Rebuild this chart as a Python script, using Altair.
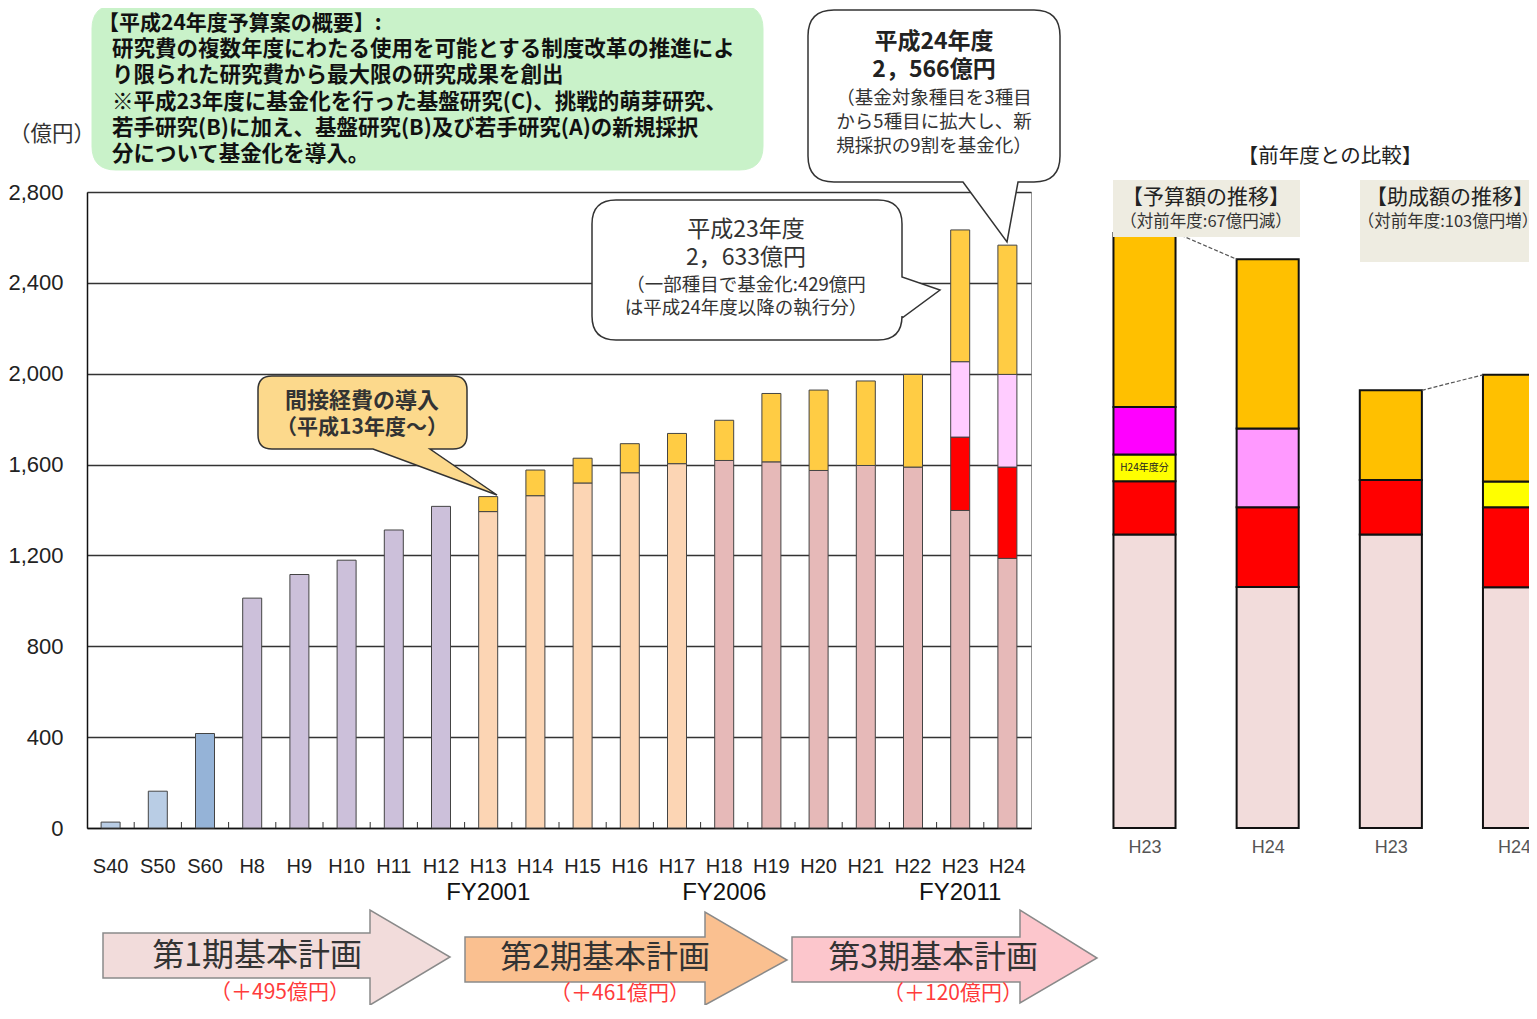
import json
import altair as alt
import pandas as pd

# ---------------- data ----------------
years = ["S40", "S50", "S60", "H8", "H9", "H10", "H11", "H12", "H13", "H14",
         "H15", "H16", "H17", "H18", "H19", "H20", "H21", "H22", "H23", "H24"]
period = ["S40-S50", "S40-S50", "S60",
          "H8-H12", "H8-H12", "H8-H12", "H8-H12", "H8-H12",
          "H13-H17", "H13-H17", "H13-H17", "H13-H17", "H13-H17",
          "H18-H24", "H18-H24", "H18-H24", "H18-H24", "H18-H24", "H18-H24", "H18-H24"]
base_vals = [26, 162, 416, 1012, 1116, 1179, 1312, 1416, 1393, 1463,
             1519, 1564, 1604, 1618, 1612, 1574, 1596, 1589, 1398, 1187]
fund_a_vals = [0, 0, 0, 0, 0, 0, 0, 0, 0, 0, 0, 0, 0, 0, 0, 0, 0, 0, 323, 402]
fund_b_vals = [0, 0, 0, 0, 0, 0, 0, 0, 0, 0, 0, 0, 0, 0, 0, 0, 0, 0, 332, 408]
indirect_vals = [0, 0, 0, 0, 0, 0, 0, 0, 66, 113, 109, 128, 133, 177, 301, 354, 372, 408, 580, 569]

seg_domain = ["S40-S50", "S60", "H8-H12", "H13-H17", "H18-H24", "基金化A", "基金化B", "間接経費"]
seg_colors = ["#b9cde5", "#95b3d7", "#ccc0da", "#fcd5b4", "#e6b9b8", "#ff0000", "#ffccff", "#ffcc44"]

y_ticks = [0, 400, 800, 1200, 1600, 2000, 2400, 2800]

fy_years = ["H13", "H18", "H23"]
fy_labels = ["FY2001", "FY2006", "FY2011"]

# comparison panel (前年度との比較)
cmp_pos = [0, 1, 2, 3]
cmp_labels = ["H23", "H24", "H23", "H24"]
cmp_base = [1292, 1061, 1292, 1060]
cmp_red = [235, 351, 240, 352]
cmp_yellow = [117, 0, 0, 114]
cmp_magenta = [209, 0, 0, 0]
cmp_pink = [0, 347, 0, 0]
cmp_orange = [767, 745, 395, 469]
cmp_seg_domain = ["c_base", "c_red", "c_yellow", "c_magenta", "c_pink", "c_orange"]
cmp_seg_colors = ["#f2dcdb", "#ff0000", "#ffff00", "#ff00ff", "#ff99ff", "#ffc000"]

# ---------------- tables ----------------
rows = []
for i, yr in enumerate(years):
    cum = 0
    for seg, val in [(period[i], base_vals[i]), ("基金化A", fund_a_vals[i]),
                     ("基金化B", fund_b_vals[i]), ("間接経費", indirect_vals[i])]:
        if val > 0:
            rows.append({"year": yr, "seg": seg, "y0": cum, "y1": cum + val})
            cum += val
main_df = pd.DataFrame(rows)
tick_df = pd.DataFrame({"year": years[1:]})
fy_df = pd.DataFrame({"year": fy_years, "label": fy_labels})

HALF = 0.252
crows = []
totals = []
for i in range(len(cmp_pos)):
    cum = 0
    for seg, lst in zip(cmp_seg_domain, [cmp_base, cmp_red, cmp_yellow, cmp_magenta, cmp_pink, cmp_orange]):
        v = lst[i]
        if v > 0:
            crows.append({"xl": cmp_pos[i] - HALF, "xr": cmp_pos[i] + HALF,
                          "y0": cum, "y1": cum + v, "cseg": seg})
            cum += v
    totals.append(cum)
cmp_df = pd.DataFrame(crows)
conn_df = pd.DataFrame({
    "xl": [cmp_pos[0] + HALF, cmp_pos[2] + HALF],
    "xr": [cmp_pos[1] - HALF, cmp_pos[3] - HALF],
    "y0": [totals[0], totals[2]],
    "y1": [totals[1], totals[3]],
})
h24_df = pd.DataFrame({"xl": [cmp_pos[0]],
                       "y0": [cmp_base[0] + cmp_red[0] + cmp_yellow[0] / 2],
                       "t": ["H24年度分"]})

# ---------------- styles ----------------
JP = "Noto Sans CJK JP"
LAT = "Liberation Sans"
OX, OY = 87, 192  # page position of plot origin
W, H = 944, 636

ys = alt.Scale(domain=[0, 2800], nice=False, zero=True)
yaxis = alt.Axis(values=y_ticks, format=",d", title=None, ticks=False, labelPadding=24,
                 labelFont=LAT, labelFontSize=22, labelColor="#222",
                 grid=True, gridColor="#333", gridWidth=1.4, domainColor="#111", domainWidth=1.5)
xs_main = alt.Scale(domain=years, paddingInner=0, paddingOuter=0)
xaxis_main = alt.Axis(title=None, labelAngle=0, ticks=False, labelPadding=28,
                      labelFont=LAT, labelFontSize=20, labelColor="#222", grid=False,
                      labelOverlap=False, domainColor="#111", domainWidth=1.5)
xs_r = alt.Scale(domain=[0, 3], range=[1057.5, 1427], nice=False, zero=False)
xaxis_r = alt.Axis(values=cmp_pos, labelExpr=json.dumps(cmp_labels) + "[datum.value]",
                   orient="bottom", domain=False, ticks=False, grid=False, title=None,
                   labelFlush=False, labelPadding=10, labelFont=LAT,
                   labelFontSize=18, labelColor="#555")

one = pd.DataFrame({"_": [0]})


def txt(s, px, py, size, color="#222", weight="normal", align="center", font=JP):
    return alt.Chart(one).mark_text(text=s, fontSize=size, font=font, fontWeight=weight,
                                    color=color, align=align, baseline="middle").encode(
        x=alt.value(px - OX), y=alt.value(py - OY))


S = 100.0


def shape(path, cx, cy, fill, stroke, sw=1.5):
    return alt.Chart(one).mark_point(shape=path, size=(2 * S) ** 2, filled=True, fill=fill,
                                     stroke=stroke, strokeWidth=sw, opacity=1,
                                     fillOpacity=1, strokeOpacity=1).encode(
        x=alt.value(cx - OX), y=alt.value(cy - OY))


def bubble(x0, y0, x1, y1, r, fill, stroke, tail_right=None, tail_bottom=None, sw=1.5):
    cx, cy = (x0 + x1) / 2, (y0 + y1) / 2

    def P(x, y):
        return f"{(x - cx) / S:.4f},{(y - cy) / S:.4f}"
    s = f"M{P(x0 + r, y0)}L{P(x1 - r, y0)}Q{P(x1, y0)} {P(x1, y0 + r)}"
    if tail_right:
        a, (tx, ty), b = tail_right
        s += f"L{P(x1, a)}L{P(tx, ty)}L{P(x1, b)}"
    s += f"L{P(x1, y1 - r)}Q{P(x1, y1)} {P(x1 - r, y1)}"
    if tail_bottom:
        a, (tx, ty), b = tail_bottom
        s += f"L{P(a, y1)}L{P(tx, ty)}L{P(b, y1)}"
    s += f"L{P(x0 + r, y1)}Q{P(x0, y1)} {P(x0, y1 - r)}L{P(x0, y0 + r)}Q{P(x0, y0)} {P(x0 + r, y0)}Z"
    return shape(s, cx, cy, fill, stroke, sw)


def arrow(x0, xh, xt, bt, bb, ht, hb, ty, fill, stroke="#8a8a8a"):
    cx, cy = (x0 + xt) / 2, (ht + hb) / 2

    def P(x, y):
        return f"{(x - cx) / S:.4f},{(y - cy) / S:.4f}"
    s = (f"M{P(x0, bt)}L{P(xh, bt)}L{P(xh, ht)}L{P(xt, ty)}L{P(xh, hb)}"
         f"L{P(xh, bb)}L{P(x0, bb)}Z")
    return shape(s, cx, cy, fill, stroke, 1.5)


def box(x0, y0, x1, y1, color):
    return alt.Chart(one).mark_rect(color=color).encode(
        x=alt.value(x0 - OX), x2=alt.value(x1 - OX), y=alt.value(y0 - OY), y2=alt.value(y1 - OY))


# ---------------- main chart ----------------
bars = alt.Chart(main_df).mark_bar(width=19, stroke="#444", strokeWidth=1).encode(
    x=alt.X("year:N", scale=xs_main, axis=xaxis_main, sort=years),
    y=alt.Y("y0:Q", scale=ys, axis=yaxis),
    y2="y1:Q",
    color=alt.Color("seg:N", scale=alt.Scale(domain=seg_domain, range=seg_colors), legend=None),
)
ticks = alt.Chart(tick_df).mark_rule(color="#333", strokeWidth=1).encode(
    x=alt.X("year:N", scale=xs_main, axis=xaxis_main, sort=years, bandPosition=0),
    y=alt.value(H), y2=alt.value(H - 6),
)
fy = alt.Chart(fy_df).mark_text(font=LAT, fontSize=24, color="#111", baseline="middle").encode(
    x=alt.X("year:N", scale=xs_main, axis=xaxis_main, sort=years),
    y=alt.value(893 - OY),
    text="label:N",
)
main = alt.layer(bars, ticks, fy)

# ---------------- comparison panel ----------------
cbars = alt.Chart(cmp_df).mark_rect(stroke="#111", strokeWidth=2).encode(
    x=alt.X("xl:Q", scale=xs_r, axis=xaxis_r),
    x2="xr:Q",
    y=alt.Y("y0:Q", scale=ys, axis=yaxis),
    y2="y1:Q",
    color=alt.Color("cseg:N", scale=alt.Scale(domain=cmp_seg_domain, range=cmp_seg_colors), legend=None),
)
conn = alt.Chart(conn_df).mark_rule(color="#555", strokeWidth=1.2, strokeDash=[4, 2]).encode(
    x=alt.X("xl:Q", scale=xs_r, axis=xaxis_r),
    x2="xr:Q",
    y=alt.Y("y0:Q", scale=ys, axis=yaxis),
    y2="y1:Q",
)
h24 = alt.Chart(h24_df).mark_text(font=JP, fontSize=10, color="#222", baseline="middle").encode(
    x=alt.X("xl:Q", scale=xs_r, axis=xaxis_r),
    y=alt.Y("y0:Q", scale=ys, axis=yaxis),
    text="t:N",
)
right = alt.layer(cbars, conn, h24)

# ---------------- annotations ----------------
ann = [
    # green summary box
    bubble(92, 5, 763, 170, 24, "#c9f2c9", "#c9f2c9", sw=1),
    txt("【平成24年度予算案の概要】:", 98, 24, 21, "#111", "bold", "left"),
    txt("研究費の複数年度にわたる使用を可能とする制度改革の推進によ", 112, 50, 21.5, "#111", "bold", "left"),
    txt("り限られた研究費から最大限の研究成果を創出", 112, 76, 21.5, "#111", "bold", "left"),
    txt("※平成23年度に基金化を行った基盤研究(C)、挑戦的萌芽研究、", 112, 103, 21.5, "#111", "bold", "left"),
    txt("若手研究(B)に加え、基盤研究(B)及び若手研究(A)の新規採択", 112, 129, 21.5, "#111", "bold", "left"),
    txt("分について基金化を導入。", 112, 155, 21.5, "#111", "bold", "left"),
    txt("（億円）", 52, 135, 21.5, "#333"),
    # callout H24
    bubble(808, 10, 1060, 182, 26, "white", "#333", tail_bottom=(1018, (1007, 242), 963)),
    txt("平成24年度", 934, 42, 23, "#222", "bold"),
    txt("2，566億円", 934, 70, 23, "#222", "bold"),
    txt("（基金対象種目を3種目", 934, 98, 18.5, "#333"),
    txt("から5種目に拡大し、新", 934, 122, 18.5, "#333"),
    txt("規採択の9割を基金化）", 934, 146, 18.5, "#333"),
    # callout H23
    bubble(592, 200, 902, 340, 24, "white", "#333", tail_right=(277, (940, 290), 318)),
    txt("平成23年度", 746, 230, 23, "#333"),
    txt("2，633億円", 746, 258, 23, "#333"),
    txt("（一部種目で基金化:429億円", 746, 285, 18.5, "#333"),
    txt("は平成24年度以降の執行分）", 746, 308, 18.5, "#333"),
    # callout indirect costs
    bubble(258, 376, 467, 449, 14, "#fcd98c", "#333", tail_bottom=(430, (497, 495), 373)),
    txt("間接経費の導入", 362, 401, 22, "#333", "bold"),
    txt("（平成13年度～）", 362, 428, 21, "#333", "bold"),
    # comparison headers
    txt("【前年度との比較】", 1330, 157, 20.5, "#222"),
    box(1113, 180, 1300, 237, "#eeece1"),
    txt("【予算額の推移】", 1206, 198, 21, "#222"),
    txt("（対前年度:67億円減）", 1206, 222, 16.5, "#333"),
    box(1360, 180, 1540, 262, "#eeece1"),
    txt("【助成額の推移】", 1450, 198, 21, "#222"),
    txt("（対前年度:103億円増）", 1448, 222, 16.5, "#333"),
    # plan arrows
    arrow(103, 370, 450, 933, 978, 910, 1005, 957, "#f2dcdb"),
    txt("第1期基本計画", 257, 956, 32, "#333"),
    txt("（＋495億円）", 280, 993, 21, "#ff3b3b"),
    arrow(465, 705, 787, 937, 982, 912, 1005, 960, "#fac090"),
    txt("第2期基本計画", 605, 958, 32, "#333"),
    txt("（＋461億円）", 620, 994, 21, "#ff3b3b"),
    arrow(792, 1020, 1097, 937, 982, 910, 1003, 958, "#fcc6cc"),
    txt("第3期基本計画", 933, 958, 32, "#333"),
    txt("（＋120億円）", 953, 994, 21, "#ff3b3b"),
]

chart = alt.layer(main, right, *ann).resolve_scale(x="independent", color="independent").properties(
    width=W, height=H,
    padding={"left": OX - 8, "top": OY - 8, "right": 1521 - (OX - 8) - W, "bottom": 997 - (OY - 8) - H},
    autosize=alt.AutoSizeParams(type="none"),
    background="white",
).configure_view(stroke="#999", strokeWidth=1)

chart.save("out.html", embed_options={"renderer": "svg", "actions": False})
